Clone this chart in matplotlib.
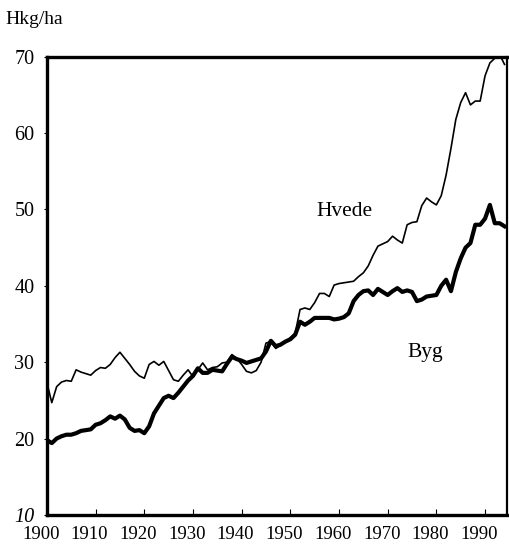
import matplotlib
matplotlib.use("Agg")
import matplotlib.pyplot as plt
import matplotlib.transforms as mtransforms

years = list(range(1900, 1995))

# Hvede (wheat), hkg/ha
hvede = [27.3, 24.7, 26.8, 27.4, 27.6, 27.5, 29.0, 28.7, 28.5, 28.3,
         28.9, 29.3, 29.2, 29.7, 30.6, 31.3, 30.5, 29.7, 28.8, 28.2,
         27.9, 29.7, 30.1, 29.6, 30.1, 28.9, 27.7, 27.5, 28.3, 29.0,
         28.1, 29.0, 29.9, 29.0, 29.3, 29.4, 29.9, 30.0, 31.0, 30.5,
         29.7, 28.8, 28.6, 28.9, 30.0, 32.5, 32.7, 31.8, 32.2, 32.7,
         33.2, 33.8, 36.9, 37.1, 36.9, 37.8, 39.0, 39.0, 38.6, 40.1,
         40.3, 40.4, 40.5, 40.6, 41.2, 41.7, 42.6, 44.0, 45.2, 45.5,
         45.8, 46.5, 46.0, 45.6, 48.0, 48.3, 48.4, 50.5, 51.5, 51.0,
         50.6, 51.8, 54.5, 58.0, 61.8, 64.0, 65.3, 63.7, 64.2, 64.2,
         67.5, 69.2, 69.8, 70.3, 69.0]

# Byg (barley), hkg/ha
byg = [19.8, 19.4, 20.0, 20.3, 20.5, 20.5, 20.7, 21.0, 21.1, 21.2,
       21.8, 22.0, 22.4, 22.9, 22.6, 23.0, 22.5, 21.4, 21.0, 21.1,
       20.7, 21.6, 23.3, 24.3, 25.3, 25.6, 25.3, 26.0, 26.8, 27.6,
       28.2, 29.2, 28.6, 28.6, 29.0, 28.9, 28.8, 29.8, 30.7, 30.4,
       30.2, 29.9, 30.1, 30.3, 30.5, 31.4, 32.8, 32.1, 32.3, 32.7,
       33.0, 33.6, 35.3, 34.9, 35.3, 35.8, 35.8, 35.8, 35.8, 35.6,
       35.7, 35.9, 36.4, 38.0, 38.8, 39.3, 39.4, 38.8, 39.6, 39.2,
       38.8, 39.3, 39.7, 39.2, 39.4, 39.2, 38.0, 38.2, 38.6, 38.7,
       38.8, 40.0, 40.8, 39.3, 41.8, 43.6, 45.0, 45.6, 48.0, 48.0,
       48.8, 50.6, 48.2, 48.2, 47.8]

xticks = list(range(1900, 2000, 10))
yticks = list(range(10, 80, 10))

plt.rcParams['font.family'] = ['Liberation Serif', 'DejaVu Serif']

fig = plt.figure(figsize=(5.10, 5.46), dpi=100)
ax = fig.add_axes([0.092, 0.057, 0.902, 0.839])

ax.plot(years, hvede, color="black", linewidth=1.2)
ax.plot(years, byg, color="black", linewidth=3.0)

ax.set_xlim(1900, 1994.5)
ax.set_ylim(10, 70)
ax.set_xticks(xticks)
ax.set_yticks(yticks)
ax.tick_params(axis="x", direction="in", length=4, width=0.8, labelsize=13.5, pad=8)
ax.tick_params(axis="y", direction="out", length=2, width=0.8, labelsize=14.5, pad=7)

# x labels sit a little left of their ticks in the original
shift = mtransforms.ScaledTranslation(-6 / 100, 0, fig.dpi_scale_trans)
for lab in ax.get_xticklabels():
    lab.set_transform(lab.get_transform() + shift)
ax.get_yticklabels()[0].set_style("italic")

for side in ["left", "top", "bottom"]:
    ax.spines[side].set_linewidth(2.4)
ax.spines["right"].set_linewidth(1.6)

ax.text(1955.4, 49.1, "Hvede", fontsize=15.5, ha="left", va="baseline")
ax.text(1974.1, 30.7, "Byg", fontsize=15.5, ha="left", va="baseline")
fig.text(0.01, 0.965, "Hkg/ha", fontsize=14, ha="left", va="center")

fig.savefig("out.png", dpi=100)
